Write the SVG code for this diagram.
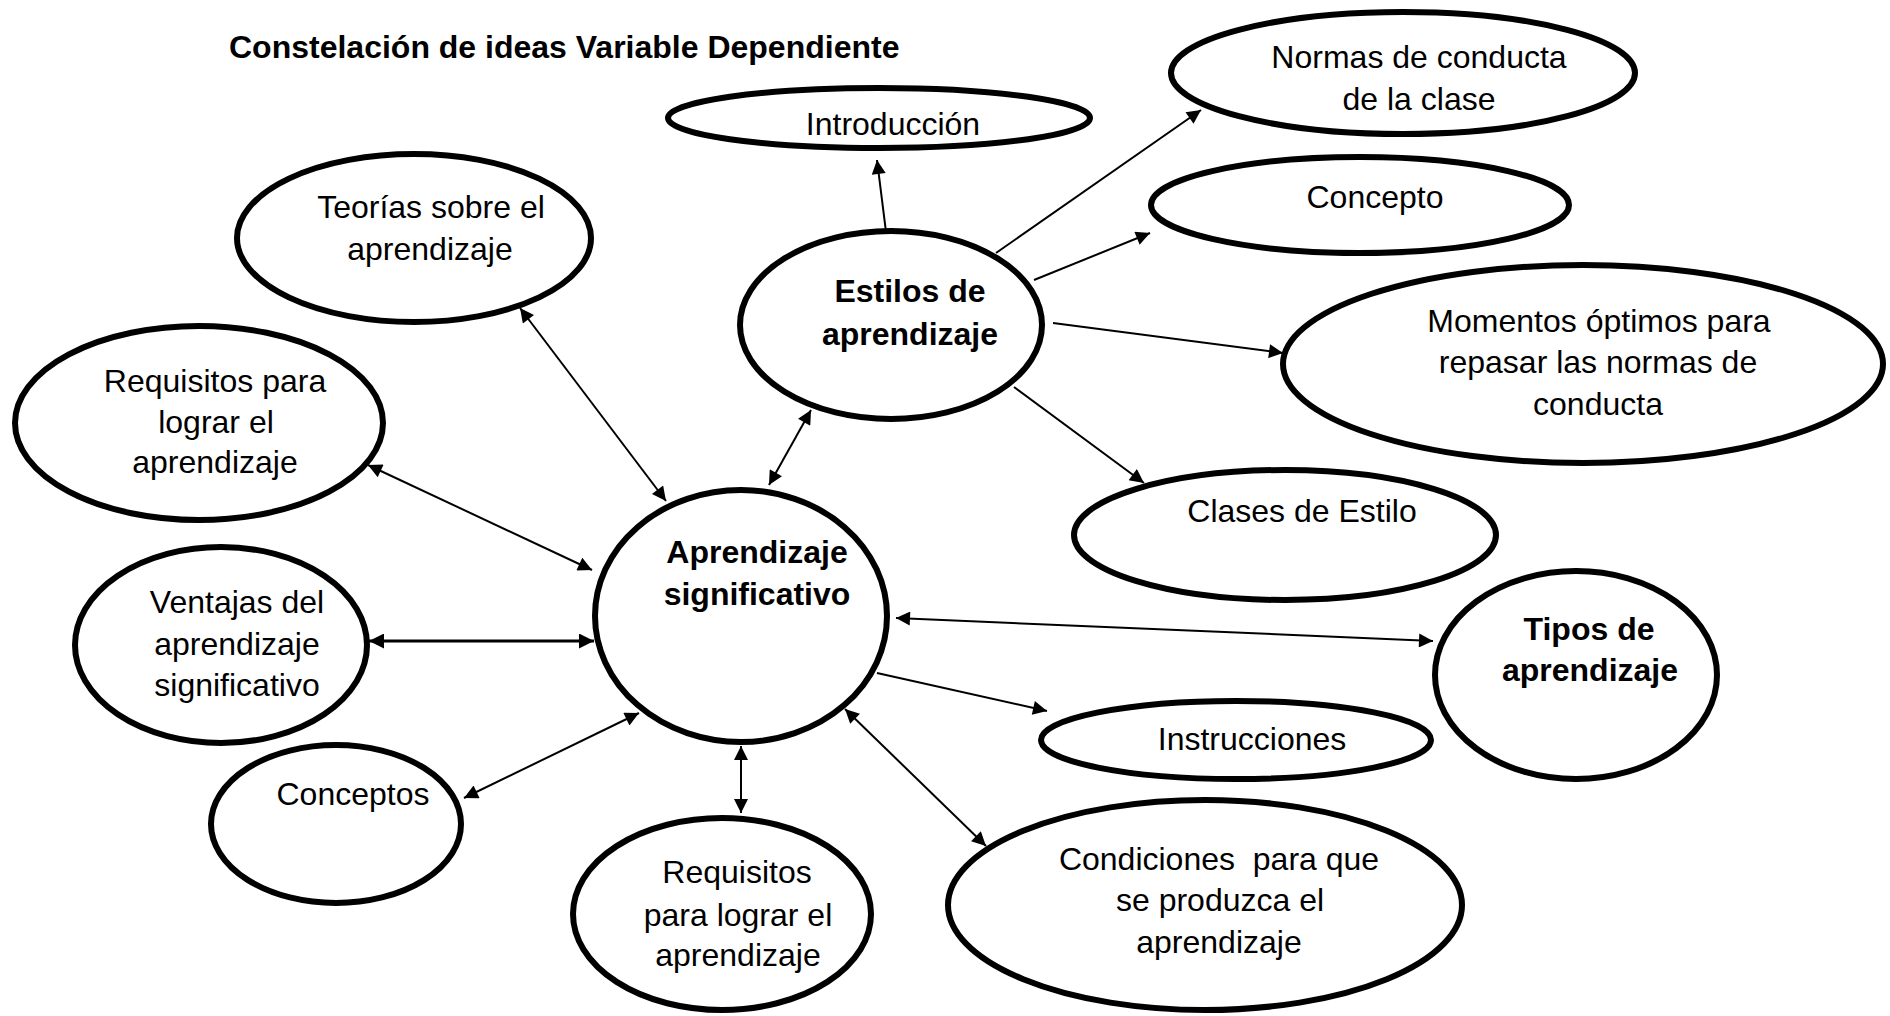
<svg xmlns="http://www.w3.org/2000/svg" width="1890" height="1016" viewBox="0 0 1890 1016">
<style>
.n{fill:#fff;stroke:#000;stroke-width:6}
.t{font-family:"Liberation Sans",Arial,sans-serif;font-size:32px;fill:#000;text-anchor:middle}
.b{font-weight:bold}
.c{stroke:#000;stroke-width:2;fill:none}
.w{stroke-width:3}
</style>
<defs>
<marker id="ah" viewBox="0 0 10 10" refX="10" refY="5" markerWidth="9" markerHeight="7" markerUnits="strokeWidth" orient="auto-start-reverse">
<path d="M0,0 L10,5 L0,10 z" fill="#000"/>
</marker>
<marker id="ah2" viewBox="0 0 10 10" refX="10" refY="5" markerWidth="6.5" markerHeight="5" markerUnits="strokeWidth" orient="auto-start-reverse">
<path d="M0,0 L10,5 L0,10 z" fill="#000"/>
</marker>
</defs>
<rect width="1890" height="1016" fill="#fff"/>
<text class="t b" x="229" y="58" style="text-anchor:start">Constelación de ideas Variable Dependiente</text>

<g id="connectors">
<line class="c" x1="886" y1="232" x2="877" y2="160" marker-end="url(#ah)"/>
<line class="c" x1="996" y1="253" x2="1201" y2="110" marker-end="url(#ah)"/>
<line class="c" x1="1034" y1="280" x2="1150" y2="233" marker-end="url(#ah)"/>
<line class="c" x1="1053" y1="323" x2="1283" y2="353" marker-end="url(#ah)"/>
<line class="c" x1="1014" y1="387" x2="1144" y2="483" marker-end="url(#ah)"/>
<line class="c" x1="769" y1="485" x2="811" y2="410" marker-start="url(#ah)" marker-end="url(#ah)"/>
<line class="c" x1="520" y1="308" x2="666" y2="501" marker-start="url(#ah)" marker-end="url(#ah)"/>
<line class="c" x1="368" y1="465" x2="592" y2="570" marker-start="url(#ah)" marker-end="url(#ah)"/>
<line class="c w" x1="369" y1="641" x2="594" y2="641" marker-start="url(#ah2)" marker-end="url(#ah2)"/>
<line class="c" x1="464" y1="798" x2="639" y2="713" marker-start="url(#ah)" marker-end="url(#ah)"/>
<line class="c" x1="741" y1="746" x2="741" y2="813" marker-start="url(#ah)" marker-end="url(#ah)"/>
<line class="c" x1="845" y1="709" x2="986" y2="846" marker-start="url(#ah)" marker-end="url(#ah)"/>
<line class="c" x1="877" y1="673" x2="1047" y2="711" marker-end="url(#ah)"/>
<line class="c" x1="896" y1="618" x2="1433" y2="641" marker-start="url(#ah)" marker-end="url(#ah)"/>
</g>

<g id="n-introduccion"><ellipse class="n" cx="879" cy="118" rx="211" ry="30"/><text class="t" x="893" y="135">Introducción</text></g>
<g id="n-normas"><ellipse class="n" cx="1403" cy="73" rx="232" ry="61"/><text class="t" x="1419" y="68">Normas de conducta</text><text class="t" x="1419" y="110">de la clase</text></g>
<g id="n-concepto"><ellipse class="n" cx="1360" cy="205" rx="209" ry="48"/><text class="t" x="1375" y="208">Concepto</text></g>
<g id="n-teorias"><ellipse class="n" cx="414" cy="238" rx="177" ry="84"/><text class="t" x="431" y="218">Teorías sobre el</text><text class="t" x="430" y="260">aprendizaje</text></g>
<g id="n-estilos"><ellipse class="n" cx="891" cy="325" rx="151" ry="94"/><text class="t b" x="910" y="302">Estilos de</text><text class="t b" x="910" y="345">aprendizaje</text></g>
<g id="n-momentos"><ellipse class="n" cx="1583" cy="364" rx="300" ry="99"/><text class="t" x="1599" y="332">Momentos óptimos para</text><text class="t" x="1598" y="373">repasar las normas de</text><text class="t" x="1598" y="415">conducta</text></g>
<g id="n-requisitos1"><ellipse class="n" cx="199" cy="423" rx="184" ry="97"/><text class="t" x="215" y="392">Requisitos para</text><text class="t" x="216" y="433">lograr el</text><text class="t" x="215" y="473">aprendizaje</text></g>
<g id="n-clases"><ellipse class="n" cx="1285" cy="535" rx="211" ry="65"/><text class="t" x="1302" y="522">Clases de Estilo</text></g>
<g id="n-aprendizaje"><ellipse class="n" cx="741" cy="616" rx="146" ry="126"/><text class="t b" x="757" y="563">Aprendizaje</text><text class="t b" x="757" y="605">significativo</text></g>
<g id="n-ventajas"><ellipse class="n" cx="221" cy="645" rx="146" ry="98"/><text class="t" x="237" y="613">Ventajas del</text><text class="t" x="237" y="655">aprendizaje</text><text class="t" x="237" y="696">significativo</text></g>
<g id="n-conceptos"><ellipse class="n" cx="336" cy="824" rx="125" ry="79"/><text class="t" x="353" y="805">Conceptos</text></g>
<g id="n-requisitos2"><ellipse class="n" cx="722" cy="914" rx="149" ry="96"/><text class="t" x="737" y="883">Requisitos</text><text class="t" x="738" y="926">para lograr el</text><text class="t" x="738" y="966">aprendizaje</text></g>
<g id="n-tipos"><ellipse class="n" cx="1576" cy="675" rx="141" ry="104"/><text class="t b" x="1589" y="640">Tipos de</text><text class="t b" x="1590" y="681">aprendizaje</text></g>
<g id="n-instrucciones"><ellipse class="n" cx="1236" cy="740" rx="195" ry="39"/><text class="t" x="1252" y="750">Instrucciones</text></g>
<g id="n-condiciones"><ellipse class="n" cx="1205" cy="905" rx="257" ry="105"/><text class="t" x="1219" y="870" xml:space="preserve">Condiciones  para que</text><text class="t" x="1220" y="911">se produzca el</text><text class="t" x="1219" y="953">aprendizaje</text></g>
</svg>
